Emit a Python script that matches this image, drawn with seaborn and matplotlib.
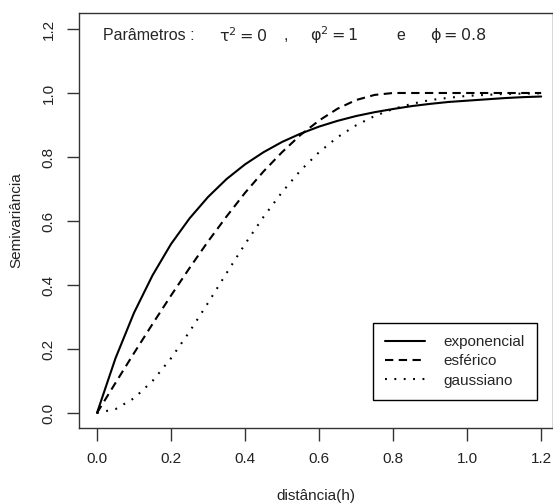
import seaborn as sns
import numpy as np
import pandas as pd
import matplotlib.pyplot as plt

# distances and semivariance values
h = [0.0, 0.05, 0.1, 0.15, 0.2, 0.25, 0.3, 0.35, 0.4, 0.45, 0.5, 0.55, 0.6,
     0.65, 0.7, 0.75, 0.8, 0.85, 0.9, 0.95, 1.0, 1.05, 1.1, 1.15, 1.2]
exponencial = [0.0, 0.171, 0.313, 0.430, 0.528, 0.608, 0.675, 0.731, 0.777, 0.815,
               0.847, 0.873, 0.895, 0.913, 0.928, 0.940, 0.950, 0.959, 0.966,
               0.972, 0.976, 0.980, 0.984, 0.987, 0.989]
esferico = [0.0, 0.094, 0.187, 0.278, 0.367, 0.453, 0.536, 0.614, 0.688, 0.755,
            0.815, 0.869, 0.914, 0.951, 0.978, 0.994, 1.0, 1.0, 1.0, 1.0, 1.0,
            1.0, 1.0, 1.0, 1.0]
gaussiano = [0.0, 0.012, 0.046, 0.100, 0.171, 0.254, 0.344, 0.437, 0.528, 0.613,
             0.690, 0.758, 0.815, 0.862, 0.899, 0.928, 0.950, 0.966, 0.978,
             0.985, 0.991, 0.994, 0.997, 0.998, 0.999]
xticks = [0.0, 0.2, 0.4, 0.6, 0.8, 1.0, 1.2]
yticks = [0.0, 0.2, 0.4, 0.6, 0.8, 1.0, 1.2]

sns.set_theme(style="ticks")
plt.rcParams["font.family"] = ["Liberation Sans", "DejaVu Sans"]
plt.rcParams["mathtext.fontset"] = "custom"
plt.rcParams["mathtext.rm"] = "DejaVu Sans"
plt.rcParams["mathtext.it"] = "DejaVu Sans"

df = pd.DataFrame({"h": h, "exponencial": exponencial,
                   "esférico": esferico, "gaussiano": gaussiano})

fig = plt.figure(figsize=(5.53, 5.04), dpi=100)
ax = fig.add_axes([79 / 553, 76 / 504, 474 / 553, 415 / 504])

sns.lineplot(data=df, x="h", y="exponencial", ax=ax, color="black", lw=1.5,
             label="exponencial")
sns.lineplot(data=df, x="h", y="esférico", ax=ax, color="black", lw=1.5,
             label="esférico")
sns.lineplot(data=df, x="h", y="gaussiano", ax=ax, color="black", lw=1.5,
             label="gaussiano")
ax.lines[1].set_dashes([4, 2.6])
ax.lines[2].set_dashes([0.9, 3.6])

ax.set_xlim(-0.0486, 1.232)
ax.set_ylim(-0.047, 1.25)
ax.set_xticks(xticks)
ax.set_yticks(yticks)
ax.set_xticklabels([f"{v:.1f}" for v in xticks], fontsize=11, color="#222222")
ax.set_yticklabels([f"{v:.1f}" for v in yticks], fontsize=11, color="#222222",
                   rotation=90, va="center")
ax.tick_params(length=9, width=1, color="#333333", pad=8)
for s in ax.spines.values():
    s.set_color("#333333")
    s.set_linewidth(1)
    s.set_visible(True)

ax.set_xlabel("distância(h)", fontsize=11, color="#222222", labelpad=17)
ax.set_ylabel("Semivariância", fontsize=11, color="#222222", labelpad=13)

ty = 1.18
fs = 11.5
ax.text(0.016, ty, "Parâmetros :", fontsize=fs, va="center")
ax.text(0.33, ty, r"$\mathrm{\tau}^2 = 0$", fontsize=fs, va="center")
ax.text(0.503, ty, ",", fontsize=fs, va="center")
ax.text(0.575, ty, r"$\mathrm{\varphi}^2 = 1$", fontsize=fs, va="center")
ax.text(0.81, ty, "e", fontsize=fs, va="center")
ax.text(0.9, ty, r"$\mathrm{\phi} = 0.8$", fontsize=fs, va="center")

leg = ax.legend(loc="lower right", bbox_to_anchor=(0.966, 0.0675),
                borderaxespad=0, fancybox=False, framealpha=1,
                edgecolor="black", fontsize=11, handlelength=2.6,
                labelspacing=0.35, borderpad=0.8, handletextpad=1.2)
leg.get_frame().set_linewidth(1)

fig.savefig("out.png", dpi=100)
